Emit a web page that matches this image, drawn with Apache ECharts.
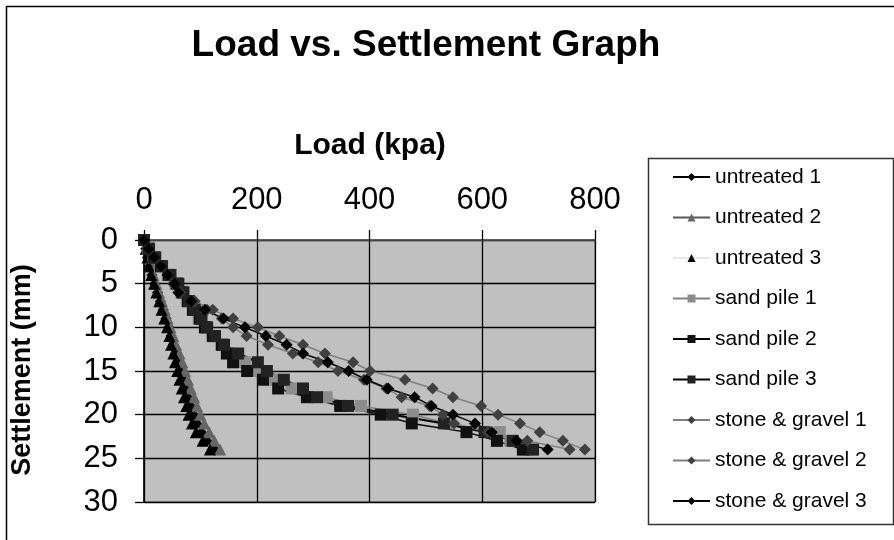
<!DOCTYPE html>
<html>
<head>
<meta charset="utf-8">
<title>Load vs. Settlement Graph</title>
<script src="https://cdn.jsdelivr.net/npm/echarts@6/dist/echarts.min.js"></script>
<style>
  html, body { margin: 0; padding: 0; background: #fff; }
  #chart { width: 894px; height: 540px; }
</style>
</head>
<body>
<div id="chart"></div>
<script>
// settlement readings (mm) shared by every test, loads (kpa) per test
const settlement = [0, 1, 2, 3, 4, 5, 6, 7, 8, 9, 10, 11, 12, 13, 14, 15, 16, 17, 18, 19, 20, 21, 22, 23, 24];

const untreated1 = [0, 3, 6, 10, 14, 19, 24, 29, 34, 39, 44, 48, 52, 56, 60, 64, 69, 73, 78, 83, 88, 94, 102, 112, 125];
const untreated2 = [0, 4, 8, 12, 17, 22, 27, 32, 37, 42, 47, 52, 57, 63, 68, 73, 78, 83, 89, 94, 100, 107, 116, 125, 135];
const untreated3 = [0, 3, 6, 9, 13, 18, 22, 27, 31, 36, 41, 45, 48, 52, 55, 59, 63, 67, 71, 75, 79, 85, 92, 104, 117];
const sandPile1 = [0, 7, 17, 28, 42, 56, 66, 76, 86, 97, 108, 122, 138, 158, 179, 200, 228, 262, 324, 385, 477, 540, 631, 650, 680];
const sandPile2 = [0, 8, 18, 30, 44, 58, 68, 78, 87, 99, 108, 122, 138, 147, 158, 183, 211, 238, 289, 348, 420, 475, 572, 626, 672];
const sandPile3 = [0, 9, 20, 32, 47, 61, 70, 80, 90, 102, 112, 126, 142, 167, 202, 218, 248, 282, 307, 362, 441, 532, 604, 654, 690];
const stoneGravel1 = [0, 8, 18, 30, 42, 52, 64, 90, 122, 158, 202, 240, 282, 321, 371, 401, 463, 512, 548, 598, 628, 667, 702, 743, 782];
const stoneGravel2 = [0, 8, 18, 30, 42, 52, 62, 86, 112, 138, 158, 182, 220, 264, 309, 344, 390, 430, 457, 507, 530, 550, 610, 680, 755];
const stoneGravel3 = [0, 8, 18, 30, 42, 54, 61, 84, 108, 141, 179, 216, 253, 282, 326, 363, 395, 433, 480, 510, 548, 587, 617, 661, 716];

const seriesNames = ['untreated 1', 'untreated 2', 'untreated 3', 'sand pile 1', 'sand pile 2', 'sand pile 3',
  'stone & gravel 1', 'stone & gravel 2', 'stone & gravel 3'];
const seriesLoads = [untreated1, untreated2, untreated3, sandPile1, sandPile2, sandPile3,
  stoneGravel1, stoneGravel2, stoneGravel3];

const looks = [
  { line: '#000000', mark: '#000000', symbol: 'diamond', size: 11, width: 1.5 },
  { line: '#595959', mark: '#666666', symbol: 'triangle', size: 12, width: 1.5 },
  { line: '#e6e6e6', mark: '#000000', symbol: 'triangle', size: 12, width: 1.5 },
  { line: '#808080', mark: '#8c8c8c', symbol: 'rect', size: 12, width: 1.5 },
  { line: '#000000', mark: '#111111', symbol: 'rect', size: 12, width: 1.5 },
  { line: '#000000', mark: '#222222', symbol: 'rect', size: 12, width: 2 },
  { line: '#7f7f7f', mark: '#404040', symbol: 'diamond', size: 12, width: 1.5 },
  { line: '#7f7f7f', mark: '#404040', symbol: 'diamond', size: 12, width: 1.5 },
  { line: '#000000', mark: '#000000', symbol: 'diamond', size: 12, width: 1.5 }
];

const font = 'Liberation Sans, Arial, sans-serif';
const chart = echarts.init(document.getElementById('chart'));

chart.setOption({
  animation: false,
  backgroundColor: '#ffffff',
  textStyle: { fontFamily: font },
  grid: {
    left: 144, right: 299, top: 240, bottom: 38,
    show: true,
    backgroundColor: '#c0c0c0',
    borderColor: '#808080',
    borderWidth: 1.5
  },
  xAxis: {
    type: 'value',
    position: 'top',
    min: 0, max: 800, interval: 200,
    axisLine: { show: true, lineStyle: { color: '#555555', width: 1.5 } },
    axisTick: { show: true, inside: false, length: 10, lineStyle: { color: '#000', width: 1.3 } },
    axisLabel: { fontSize: 31, margin: 24, color: '#000', fontFamily: font },
    splitLine: { show: true, lineStyle: { color: '#000', width: 1.3 } }
  },
  yAxis: {
    type: 'value',
    inverse: true,
    min: 0, max: 30, interval: 5,
    axisLine: { show: true, lineStyle: { color: '#000', width: 1.5 } },
    axisTick: { show: true, inside: false, length: 9, lineStyle: { color: '#000', width: 1.3 } },
    axisLabel: { fontSize: 31, margin: 26, color: '#000', fontFamily: font },
    splitLine: { show: true, lineStyle: { color: '#000', width: 1.3 } }
  },
  legend: {
    orient: 'vertical',
    left: 672,
    top: 165,
    padding: 0,
    itemWidth: 37,
    itemHeight: 10,
    itemGap: 16.5,
    selectedMode: false,
    textStyle: { fontSize: 21, lineHeight: 24, color: '#000', fontFamily: font },
    data: seriesNames
  },
  graphic: [
    {
      type: 'rect', left: 4, top: 4, silent: true, z: -1,
      shape: { width: 1000, height: 1000 },
      style: { fill: 'none', stroke: '#000', lineWidth: 1.5 }
    },
    {
      type: 'rect', left: 646, top: 156, silent: true,
      shape: { width: 245, height: 366 },
      style: { fill: 'none', stroke: '#333', lineWidth: 1.5 }
    },
    {
      type: 'text', x: 426, y: 46, silent: true,
      style: {
        text: 'Load vs. Settlement Graph', fontSize: 37, fontWeight: 'bold', fontFamily: font,
        fill: '#000', align: 'center', verticalAlign: 'middle'
      }
    },
    {
      type: 'text', x: 370, y: 146, silent: true,
      style: {
        text: 'Load (kpa)', fontSize: 30, fontWeight: 'bold', fontFamily: font,
        fill: '#000', align: 'center', verticalAlign: 'middle'
      }
    },
    {
      type: 'text', x: 23, y: 370, rotation: Math.PI / 2, silent: true,
      style: {
        text: 'Settlement (mm)', fontSize: 27, fontWeight: 'bold', fontFamily: font,
        fill: '#000', align: 'center', verticalAlign: 'middle'
      }
    }
  ],
  series: seriesNames.map((name, i) => ({
    name,
    type: 'line',
    data: seriesLoads[i].map((load, j) => [load, settlement[j]]),
    symbol: looks[i].symbol,
    symbolSize: looks[i].size,
    showAllSymbol: true,
    lineStyle: { color: looks[i].line, width: looks[i].width },
    itemStyle: { color: looks[i].mark },
    emphasis: { disabled: true }
  }))
});
</script>
</body>
</html>
